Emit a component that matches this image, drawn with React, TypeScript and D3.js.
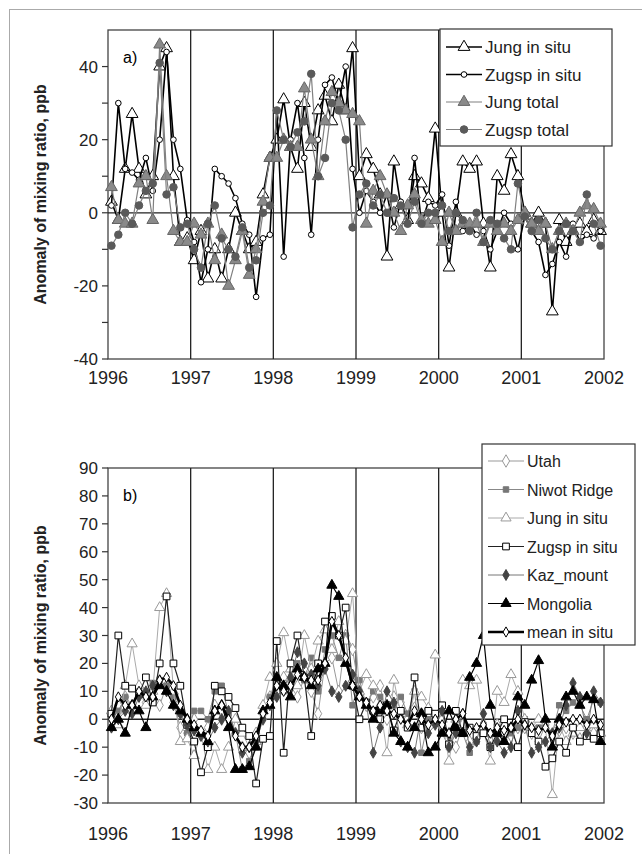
import React from "react";
import * as d3 from "d3";

const jungInSitu = [3,-2,12,27,12,5,10,40,45,10,-8,-7, -13,-5,-18,-10,-18,-10,0,-5,-10,-8,5,15, 20,31,18,12,30,18,28,32,25,35,28,45, 10,16,12,5,-12,14,2,-2,10,8,4,23, 0,-15,0,14,12,14,-3,-15,10,6,16,10, 0,-3,0,-3,-27,-2,-8,-5,-3,-5,-2,-5];
const zugspInSitu = [2,30,12,11,9,15,6,20,44,20,12,-2, -8,-19,-10,12,10,8,4,-3,-6,-23,-7,-6, 28,-12,20,30,15,-6,20,35,37,30,40,12, 0,6,3,0,5,-4,3,-3,15,-3,3,2, 5,-9,3,-5,-3,-6,-5,-10,-5,0,-3,-10, -1,-5,-8,-17,-14,-8,-12,-3,-8,-6,-7,-5];
const jungTotal = [7,-2,-3,-3,8,10,-2,46,10,-5,-8,-8, -3,-6,-3,-13,-6,-20,-13,-5,-17,-10,3,15, 15,20,18,18,34,20,10,25,33,30,28,27, 25,-3,6,10,5,0,-5,2,5,-2,-3,-2, -8,0,-5,-3,-3,-3,-8,-3,-5,-3,-5,-2, 0,-3,-5,-3,-10,-5,-3,-5,0,2,1,-3];
const zugspTotal = [-9,-6,0,-3,2,6,8,41,5,7,-4,-3, -10,-15,-3,2,-7,-10,-12,-4,-15,-13,0,2, 28,20,18,22,25,38,10,15,30,28,20,-4, 5,8,2,5,0,4,2,-3,3,-3,0,0, 2,-5,0,-2,-5,0,-8,-2,-3,-7,-10,8, -1,-5,-2,-7,-10,-5,-3,-5,-8,5,-3,-9];
const utah = [2,5,8,3,10,6,8,5,12,6,-3,-5, 0,-5,-3,5,0,0,-5,-10,-12,-5,0,8, 10,15,12,8,15,10,2,20,22,10,30,25, 10,5,8,12,0,8,6,0,4,-3,2,0, -3,-5,-10,-2,-8,-5,-3,-8,-2,-5,-6,-3, -3,-5,-8,-2,-6,-4,-3,-5,-7,-3,-5,-6];
const niwot = [0,3,8,5,10,8,13,14,12,8,2,-5, 3,3,0,10,12,2,-5,-18,-15,-10,2,8, 15,10,18,20,14,22,10,25,30,22,30,5, 14,5,10,8,3,5,8,2,10,-12,0,0, -5,-10,-3,-5,-12,-8,-2,-5,-3,-8,-5,-3, 0,-5,-3,-3,-5,5,3,6,5,0,7,6];
const kaz = [-3,0,3,2,8,10,12,14,10,5,2,-2, -4,-6,-8,-3,0,3,-5,-12,-10,-8,0,5, 8,12,15,24,20,16,12,18,10,8,12,16, 10,6,-12,-3,10,6,-8,-10,-12,2,-5,-2, 3,-10,-5,2,-10,-8,2,-10,-8,-12,-10,3, -2,-12,-10,-8,-5,-3,5,13,8,-5,10,6];
const mongolia = [-3,0,-5,5,3,-3,8,12,10,5,3,0, -3,-5,-8,3,5,-3,-18,-18,-17,-10,3,5, 15,12,8,18,15,12,18,20,48,44,20,12, 8,5,0,3,5,-5,-8,-10,-3,2,-12,-10, -5,3,-3,-5,15,20,30,5,-5,-8,-3,8, 5,14,21,0,-10,0,8,10,5,8,7,-8];
const meanInSitu = [0,8,5,5,10,8,8,14,15,12,5,0, -2,-4,-6,3,5,0,-6,-10,-10,-6,2,6, 12,10,12,16,15,14,14,20,35,30,22,12, 8,6,3,5,3,2,0,-2,3,0,-2,0, -2,-5,0,2,-4,-3,-2,-5,-3,-4,-3,0, -2,-3,-4,-3,-6,-2,-1,0,0,-2,0,-2];

const years = [1996, 1997, 1998, 1999, 2000, 2001, 2002];
const ticksA = [-40, -30, -20, -10, 0, 10, 20, 30, 40];
const labelsA = [-40, -20, 0, 20, 40];
const ticksB = [-30, -20, -10, 0, 10, 20, 30, 40, 50, 60, 70, 80, 90];

type Ser = { name: string; data: number[]; line: string; lw: number; shape: string; fill: string; stroke: string; size: number };

const seriesA: Ser[] = [
  { name: "Jung in situ", data: jungInSitu, line: "#000", lw: 1.6, shape: "tri", fill: "#fff", stroke: "#000", size: 60 },
  { name: "Zugsp in situ", data: zugspInSitu, line: "#000", lw: 1.6, shape: "circle", fill: "#fff", stroke: "#000", size: 25 },
  { name: "Jung total", data: jungTotal, line: "#808080", lw: 1.2, shape: "tri", fill: "#8a8a8a", stroke: "#666", size: 60 },
  { name: "Zugsp total", data: zugspTotal, line: "#808080", lw: 1.2, shape: "circle", fill: "#5a5a5a", stroke: "#5a5a5a", size: 45 },
];
const seriesB: Ser[] = [
  { name: "Utah", data: utah, line: "#999", lw: 1, shape: "diamond", fill: "#fff", stroke: "#999", size: 45 },
  { name: "Niwot Ridge", data: niwot, line: "#888", lw: 1, shape: "square", fill: "#777", stroke: "#777", size: 30 },
  { name: "Jung in situ", data: jungInSitu, line: "#aaa", lw: 1, shape: "tri", fill: "#fff", stroke: "#999", size: 45 },
  { name: "Zugsp in situ", data: zugspInSitu, line: "#222", lw: 1.2, shape: "square", fill: "#fff", stroke: "#000", size: 45 },
  { name: "Kaz_mount", data: kaz, line: "#777", lw: 1, shape: "diamond", fill: "#444", stroke: "#444", size: 35 },
  { name: "Mongolia", data: mongolia, line: "#000", lw: 1.2, shape: "tri", fill: "#000", stroke: "#000", size: 45 },
  { name: "mean in situ", data: meanInSitu, line: "#000", lw: 2.6, shape: "diamond", fill: "#fff", stroke: "#000", size: 30 },
];

const shapeMap: Record<string, d3.SymbolType> = {
  tri: d3.symbolTriangle, circle: d3.symbolCircle, diamond: d3.symbolDiamond, square: d3.symbolSquare,
};

const FONT = "Liberation Sans, Arial, sans-serif";

function Panel({ top, bottom, domain, ticks, labels, series, label, legend, xlabOff }: any) {
  const left = 108, right = 604;
  const x = d3.scaleLinear().domain([1996, 2002]).range([left, right]);
  const y = d3.scaleLinear().domain(domain).range([bottom, top]);
  const tx = (i: number) => x(1996 + (i + 0.5) / 12);
  const line = d3.line<number>().x((_, i) => tx(i)).y((v) => y(v));
  return (
    <g>
      <rect x={left} y={top} width={right - left} height={bottom - top} fill="#fff" stroke="#444" strokeWidth={1.3} />
      {years.slice(1, -1).map((yr) => (
        <line key={yr} x1={x(yr)} x2={x(yr)} y1={top} y2={bottom} stroke="#222" strokeWidth={1.3} />
      ))}
      <line x1={left} x2={right} y1={y(0)} y2={y(0)} stroke="#222" strokeWidth={1.3} />
      {ticks.map((t: number) => (
        <line key={t} x1={left - 6} x2={left} y1={y(t)} y2={y(t)} stroke="#333" strokeWidth={1.2} />
      ))}
      {labels.map((t: number) => (
        <text key={t} x={left - 10} y={y(t) + 6} textAnchor="end" fontSize={17} fontFamily={FONT} fill="#222">{t}</text>
      ))}
      {years.map((yr) => (
        <text key={yr} x={x(yr)} y={bottom + xlabOff} textAnchor="middle" fontSize={18} fontFamily={FONT} fill="#222">{yr}</text>
      ))}
      <text x={left + 15} y={top + 33} fontSize={16} fontFamily={FONT}>{label}</text>
      {series.map((s: Ser) => (
        <g key={s.name + label}>
          <path d={line(s.data) || ""} fill="none" stroke={s.line} strokeWidth={s.lw} />
          {s.data.map((v, i) => (
            <path key={i} transform={`translate(${tx(i)},${y(v)})`} d={d3.symbol().type(shapeMap[s.shape]).size(s.size)() || ""} fill={s.fill} stroke={s.stroke} strokeWidth={1} />
          ))}
        </g>
      ))}
      <g>
        <rect x={legend.x} y={legend.y} width={legend.w} height={legend.h} fill="#fff" stroke="#333" strokeWidth={1.2} />
        {series.map((s: Ser, i: number) => {
          const ly = legend.y + legend.pad + i * legend.step;
          return (
            <g key={i}>
              <line x1={legend.x + 6} x2={legend.x + 42} y1={ly} y2={ly} stroke={s.line} strokeWidth={s.lw} />
              <path transform={`translate(${legend.x + 24},${ly})`} d={d3.symbol().type(shapeMap[s.shape]).size(s.size)() || ""} fill={s.fill} stroke={s.stroke} />
              <text x={legend.x + 45} y={ly + 6} fontSize={legend.fs} fontFamily={FONT} fill="#222">{s.name}</text>
            </g>
          );
        })}
      </g>
      <text transform={`translate(46,${(top + bottom) / 2}) rotate(-90)`} textAnchor="middle" fontSize={16} fontWeight="bold" fontFamily={FONT} fill="#222">Anomaly of mixing ratio, ppb</text>
    </g>
  );
}

export default function App() {
  return (
    <svg width={642} height={854} style={{ position: "absolute", left: 0, top: 0, background: "#fff" }}>
      <rect x={9.5} y={9.5} width={640} height={850} fill="#fff" stroke="#aaa" />
      <Panel top={30} bottom={359} domain={[-40, 50]} ticks={ticksA} labels={labelsA} series={seriesA} label="a)" xlabOff={25}
        legend={{ x: 440, y: 29, w: 172, h: 117, pad: 18, step: 27.5, fs: 17 }} />
      <Panel top={468} bottom={803} domain={[-30, 90]} ticks={ticksB} labels={ticksB} series={seriesB} label="b)" xlabOff={37}
        legend={{ x: 482, y: 444, w: 153, h: 201, pad: 17, step: 28.5, fs: 16 }} />
    </svg>
  );
}
